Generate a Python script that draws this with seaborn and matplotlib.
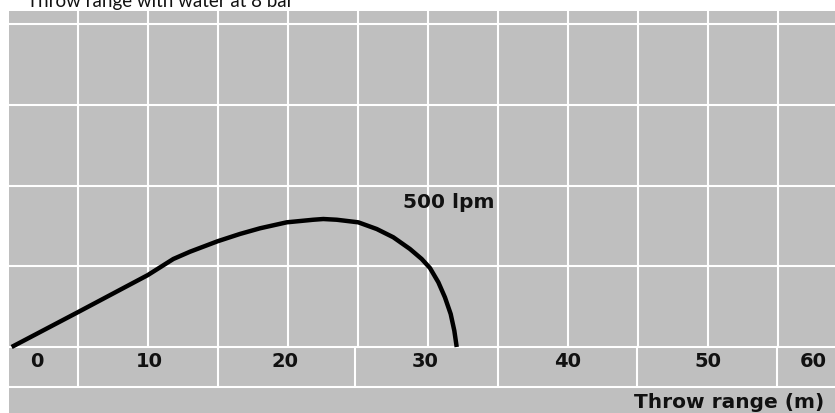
import matplotlib
matplotlib.use("Agg")
import matplotlib.pyplot as plt
import seaborn as sns
import pandas as pd

# ---- data ----
throw_m = [0.26, 4.98, 9.98, 11.81, 13.0, 14.98, 16.57, 18.0, 19.91, 21.81, 22.52,
           23.48, 25.02, 26.34, 27.52, 28.71, 29.55, 30.14, 30.74, 31.21, 31.62,
           31.88, 32.05]
height = [0.0, 0.43, 0.89, 1.09, 1.18, 1.31, 1.40, 1.47, 1.544, 1.576, 1.585,
          1.576, 1.544, 1.461, 1.359, 1.214, 1.090, 0.978, 0.801, 0.615, 0.409,
          0.202, 0.0]
series_label = "500 lpm"
tick_labels = ["0", "10", "20", "30", "40", "50", "60"]
title = "Throw range with water at 8 bar"
xlabel = "Throw range (m)"

# ---- layout/style ----
tick_pos = [2.07, 10.07, 19.8, 29.8, 39.96, 49.96, 57.5]
vgrid = [5, 10, 15, 20, 25, 30, 35, 40, 45, 50, 55]
hgrid = [1, 2, 3, 4]
row_seps = [5, 15, 24.8, 35, 44.9, 54.9]
row_bottom = -0.495
GRAY = "#bfbfbf"
BOLD_FONT = ["DejaVu Sans"]
TITLE_FONT = ["Lato", "DejaVu Sans"]

sns.set_style("white")
plt.rcParams["font.family"] = TITLE_FONT

W, H = 835, 414
fig = plt.figure(figsize=(W / 100, H / 100), dpi=100)
fig.patch.set_facecolor("white")
ax = fig.add_axes([9 / W, 0, (W - 9) / W, (H - 12) / H])
ax.set_facecolor(GRAY)
for s in ax.spines.values():
    s.set_visible(False)

px_per_m = 14.0
px_per_u = 80.75
ax.set_xlim((9 - 8) / px_per_m, (W - 8) / px_per_m)
ax.set_ylim((348 - 414) / px_per_u, (348 - 12) / px_per_u)
ax.set_xticks([])
ax.set_yticks([])
ylo, yhi = ax.get_ylim()

glw = 1.5
for xv in vgrid:
    ax.axvline(xv, ymin=(0 - ylo) / (yhi - ylo), color="white", lw=glw, zorder=1)
for yv in hgrid + [0, row_bottom]:
    ax.axhline(yv, color="white", lw=glw, zorder=1)
for xv in row_seps:
    ax.axvline(xv, ymin=(row_bottom - ylo) / (yhi - ylo), ymax=(0 - ylo) / (yhi - ylo),
               color="white", lw=glw, zorder=1)

df = pd.DataFrame({"x": throw_m, "y": height})
sns.lineplot(data=df, x="x", y="y", sort=False, color="black", lw=3.2, ax=ax,
             zorder=3, solid_capstyle="butt", solid_joinstyle="round")
ax.set_xlabel("")
ax.set_ylabel("")

for p, lab in zip(tick_pos, tick_labels):
    ax.text(p, -0.173, lab, ha="center", va="center", fontsize=14,
            fontweight="bold", color="#111111", family=BOLD_FONT)

ax.text((824 - 8) / px_per_m, (348 - 408) / px_per_u, xlabel, ha="right",
        va="baseline", fontsize=14.5, fontweight="bold", color="#111111",
        family=BOLD_FONT)
ax.text((403 - 8) / px_per_m, (348 - 208) / px_per_u, series_label, ha="left",
        va="baseline", fontsize=14.5, fontweight="bold", color="#111111",
        family=BOLD_FONT)

fig.text(27 / W, 1 - 7 / H, title, ha="left", va="baseline", fontsize=13.5,
         color="#111111")

fig.savefig("out.png", dpi=100, facecolor="white")
